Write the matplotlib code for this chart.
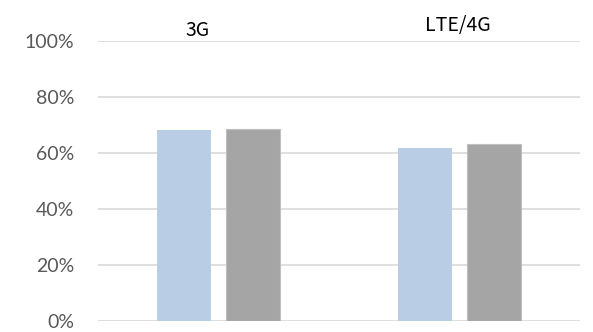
import matplotlib
matplotlib.use("Agg")
import matplotlib.pyplot as plt
import numpy as np
from matplotlib.ticker import FuncFormatter

categories = ["3G", "LTE/4G"]
series_a = [0.681, 0.618]   # light blue
series_b = [0.687, 0.633]   # gray
yticks = [0, 0.2, 0.4, 0.6, 0.8, 1.0]

fig = plt.figure(figsize=(5.93, 3.32), dpi=100)
ax = fig.add_axes([98/593, 1-321/332, (580-98)/593, (321-41)/332])

x = np.arange(len(categories))
w = 0.224
off = 0.142
ax.bar(x - off, series_a, width=w, color="#B9CDE5", edgecolor="none", zorder=2)
ax.bar(x + off, series_b, width=w, color="#A5A5A5", edgecolor="#BFBFBF", linewidth=0.8, zorder=2)

ax.set_xlim(-0.5, 1.5)
ax.set_ylim(0, 1.0)
ax.set_yticks(yticks)
ax.yaxis.set_major_formatter(FuncFormatter(lambda v, p: f"{v*100:.0f}%"))
ax.set_xticks([])
ax.grid(axis="y", color="#D9D9D9", linewidth=1.2, zorder=0)
ax.set_axisbelow(True)
for s in ax.spines.values():
    s.set_visible(False)
ax.tick_params(axis="y", length=0, pad=17, labelsize=14, labelcolor="#595959")
for lab in ax.get_yticklabels():
    lab.set_fontfamily("Lato")

ax.text(-0.085, 1.036, categories[0], ha="center", va="center", fontsize=14,
        family=["Noto Sans CJK JP", "DejaVu Sans"], color="black", clip_on=False)
ax.text(0.994, 1.057, categories[1], ha="center", va="center", fontsize=14,
        family=["Noto Sans CJK JP", "DejaVu Sans"], color="black", clip_on=False)

fig.savefig("out.png", dpi=100)
